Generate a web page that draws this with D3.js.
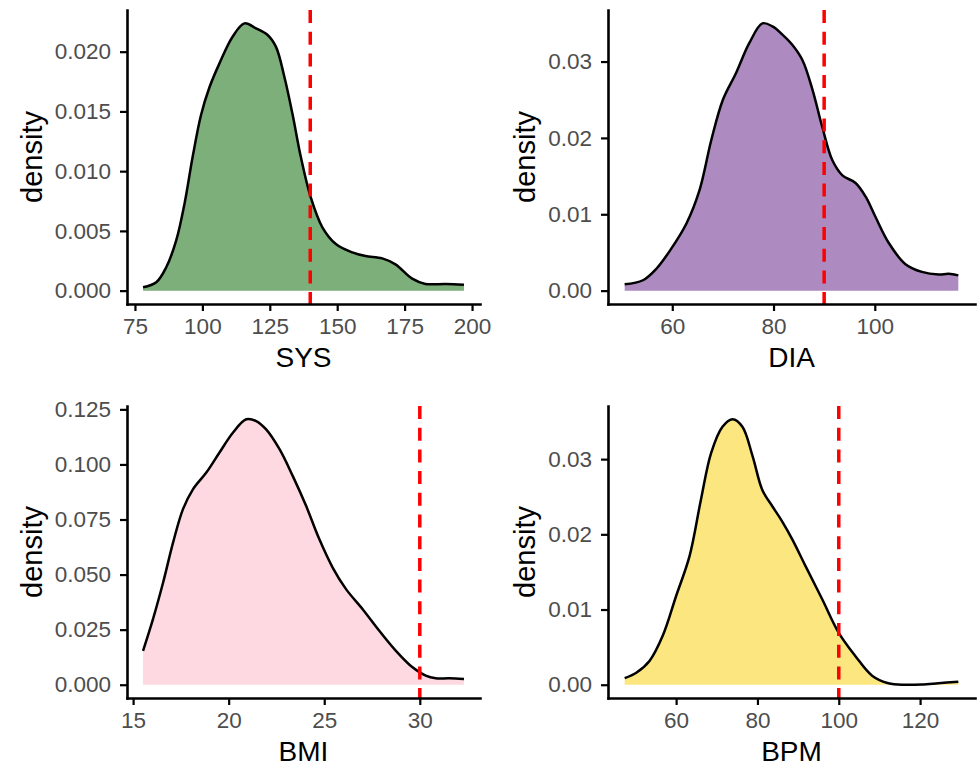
<!DOCTYPE html>
<html>
<head>
<meta charset="utf-8">
<script src="https://cdn.jsdelivr.net/npm/d3@7"></script>
<style>
  body { margin: 0; background: #fff; }
  svg text { font-family: "Liberation Sans", Arial, Helvetica, sans-serif; }
</style>
</head>
<body>
<svg id="chart" width="977" height="767"></svg>
<script>
// density curves
const sysX = [78, 82.9, 86.6, 90.3, 93.4, 96.4, 99.5, 102.6, 106.3, 111.2, 115.6, 119.9, 124.2, 127.3, 130.4, 133.4, 136.5, 140.2, 144.5, 149.5, 155.6, 160.5, 166.7, 171.6, 177.8, 182.7, 190.1, 197]
const sysY = [0.00028, 0.0007, 0.00196, 0.0042, 0.0073, 0.0112, 0.0147, 0.0170, 0.0190, 0.02125, 0.02237, 0.02195, 0.0214, 0.0204, 0.0179, 0.0148, 0.0112, 0.0078, 0.0053, 0.0039, 0.0032, 0.0029, 0.0027, 0.0022, 0.0010, 0.00056, 0.00056, 0.0005]

const diaX = [50.6, 54.2, 56.9, 59.8, 62.8, 65.4, 67.7, 70.0, 72.6, 75.2, 77.8, 79.8, 81.8, 83.7, 85.7, 87.7, 89.6, 91.6, 93.6, 96.2, 98.2, 100.1, 102.8, 106.0, 109.3, 112.6, 114.6, 116.5]
const diaY = [0.00083, 0.00136, 0.0029, 0.0055, 0.0088, 0.0132, 0.0197, 0.025, 0.0285, 0.0324, 0.035, 0.0346, 0.0335, 0.0322, 0.0302, 0.0263, 0.0215, 0.0171, 0.0151, 0.0141, 0.0123, 0.0097, 0.0062, 0.0035, 0.00245, 0.0021, 0.0022, 0.002]

const bmiX = [15.52, 16.04, 16.57, 17.09, 17.61, 18.13, 18.83, 19.52, 20.22, 20.92, 21.44, 21.96, 22.66, 23.35, 24.05, 24.74, 25.44, 26.14, 27.01, 27.88, 28.75, 29.62, 30.31, 30.83, 31.53, 32.31]
const bmiY = [0.0154, 0.0298, 0.0464, 0.0645, 0.0797, 0.0887, 0.0963, 0.1054, 0.1144, 0.1205, 0.1197, 0.1159, 0.1069, 0.0948, 0.0812, 0.0661, 0.0532, 0.0434, 0.0343, 0.0245, 0.0154, 0.0079, 0.0041, 0.0029, 0.0029, 0.0026]

const bpmX = [47.35, 50.2, 53.5, 56.7, 60.0, 63.3, 66.1, 68.6, 71.4, 73.9, 76.3, 78.8, 81.2, 83.7, 86.1, 88.6, 91.8, 95.9, 100.0, 104.1, 108.2, 112.2, 116.3, 120.4, 124.5, 129.4]
const bpmY = [0.00088, 0.0016, 0.0032, 0.0065, 0.0118, 0.0171, 0.0246, 0.0308, 0.0343, 0.0353, 0.0343, 0.0304, 0.0259, 0.0237, 0.0217, 0.0193, 0.0158, 0.0114, 0.0069, 0.0038, 0.0012, 0.0002, 0.0, 0.00004, 0.0002, 0.0004]

const variables = ['SYS', 'DIA', 'BMI', 'BPM']
const thresholds = [140, 90, 30, 100]
const xTicks = [[75, 100, 125, 150, 175, 200], [60, 80, 100], [15, 20, 25, 30], [60, 80, 100, 120]]
const yTicks = [[0, 0.005, 0.010, 0.015, 0.020], [0, 0.01, 0.02, 0.03], [0, 0.025, 0.05, 0.075, 0.1, 0.125], [0, 0.01, 0.02, 0.03]]
const yFormats = ['.3f', '.2f', '.3f', '.2f']
const fills = ['#7daf7a', '#ad8bc0', '#fed9e1', '#fbe67f']

const curves = [[sysX, sysY], [diaX, diaY], [bmiX, bmiY], [bpmX, bpmY]]

// panel boxes: left, top, right, bottom of the plotting area
const boxes = [
  { l: 127, t: 10, r: 480, b: 304 },
  { l: 608, t: 10, r: 975, b: 304 },
  { l: 127, t: 406, r: 480, b: 698 },
  { l: 608, t: 406, r: 975, b: 698 }
]

const svg = d3.select('#chart')

function expand (lo, hi) {
  const pad = (hi - lo) * 0.05
  return [lo - pad, hi + pad]
}

variables.forEach((name, i) => {
  const box = boxes[i]
  const xs = curves[i][0]
  const ys = curves[i][1]
  const pts = xs.map((x, j) => [x, ys[j]])

  const x = d3.scaleLinear().domain(expand(d3.min(xs), d3.max(xs))).range([box.l, box.r])
  const y = d3.scaleLinear().domain(expand(0, d3.max(ys))).range([box.b, box.t])

  const g = svg.append('g')

  const area = d3.area()
    .x(d => x(d[0]))
    .y0(y(0))
    .y1(d => y(d[1]))
    .curve(d3.curveCatmullRom)
  const line = d3.line()
    .x(d => x(d[0]))
    .y(d => y(d[1]))
    .curve(d3.curveCatmullRom)

  g.append('path').attr('d', area(pts)).attr('fill', fills[i])
  g.append('path').attr('d', line(pts))
    .attr('fill', 'none')
    .attr('stroke', 'black')
    .attr('stroke-width', 2.5)

  // threshold line
  g.append('line')
    .attr('x1', x(thresholds[i])).attr('x2', x(thresholds[i]))
    .attr('y1', box.t).attr('y2', box.b)
    .attr('stroke', '#ff0000')
    .attr('stroke-width', 3.5)
    .attr('stroke-dasharray', '13,8.7')

  const xAxis = g.append('g')
    .attr('transform', `translate(0,${box.b})`)
    .call(d3.axisBottom(x).tickValues(xTicks[i]).tickSize(7).tickPadding(7).tickSizeOuter(0))
  const yAxis = g.append('g')
    .attr('transform', `translate(${box.l},0)`)
    .call(d3.axisLeft(y).tickValues(yTicks[i]).tickFormat(d3.format(yFormats[i])).tickSize(7).tickPadding(9).tickSizeOuter(0))

  ;[xAxis, yAxis].forEach(a => {
    a.select('.domain').attr('stroke', 'black').attr('stroke-width', 2.6).attr('stroke-linecap', 'square')
    a.selectAll('.tick line').attr('stroke', 'black').attr('stroke-width', 2.2)
    a.selectAll('.tick text')
      .attr('fill', '#4d4d4d')
      .style('font-size', '22.5px')
  })

  g.append('text')
    .attr('x', (box.l + box.r) / 2)
    .attr('y', box.b + 63)
    .attr('text-anchor', 'middle')
    .style('font-size', '28px')
    .text(name)

  // y title sits a fixed gap left of the widest tick label
  const labelLeft = yAxis.node().getBBox().x + box.l
  g.append('text')
    .attr('transform', `translate(${labelLeft - 13},${(box.t + box.b) / 2}) rotate(-90)`)
    .attr('text-anchor', 'middle')
    .style('font-size', '29px')
    .text('density')
})
</script>
</body>
</html>
